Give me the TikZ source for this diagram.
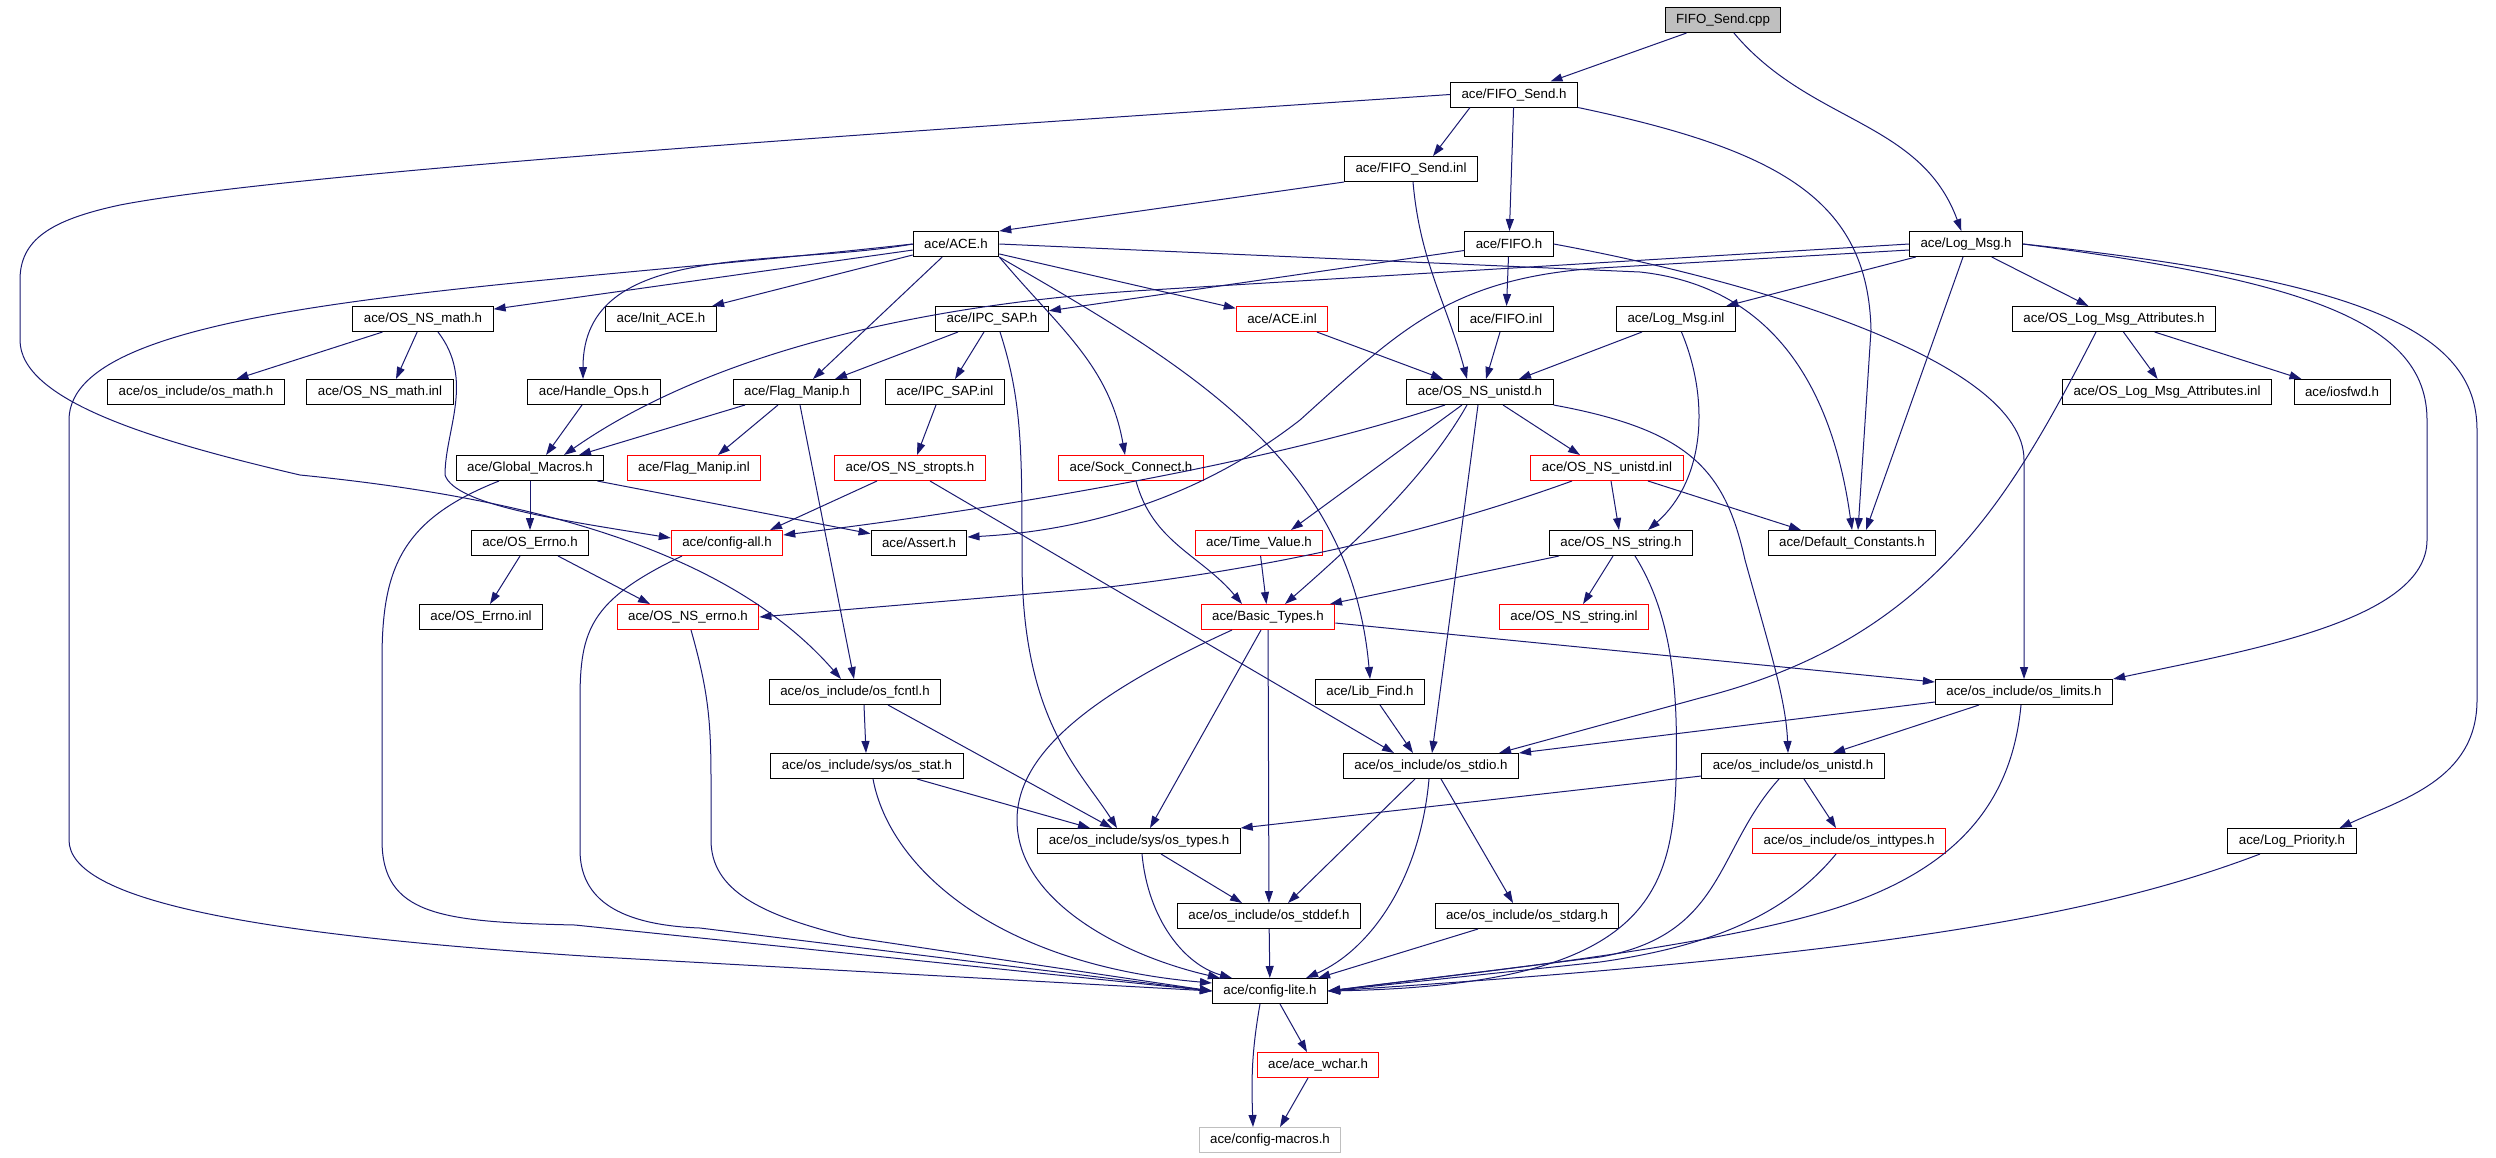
\documentclass[tikz,border=0pt]{standalone}
\usepackage{fontspec}
\setmainfont{Liberation Sans}
\usepackage{tikz}
\usetikzlibrary{
	arrows.meta
}
\definecolor{edgeblue}{RGB}{25,25,112}
\definecolor{srcgray}{RGB}{191,191,191}
\tikzset{every path/.append style={line width=1pt}}
\tikzset{every path/.append style={>={Triangle[length=12pt,width=8pt]}}}
\tikzset{
	file/.style={draw,rectangle,minimum height=25pt,inner xsep=11pt,inner ysep=0pt,font=\fontsize{13.3}{16}\selectfont},
	missing/.style={draw=red},
	src/.style={fill=srcgray},
	external/.style={draw=srcgray},
	incl/.style={->,draw=edgeblue}
}
\newcommand{\tikzFile}[4][]{\node (#3) at #2 [file,#1]{#4};}

\begin{document}
\begin{tikzpicture}[x=1pt,y=1pt]
	\useasboundingbox (0,0) rectangle (2496,-1157);
	\tikzFile[src]{(1723,-20)}{cpp}{FIFO\_Send.cpp}
	\tikzFile{(1514,-94.5)}{fsh}{ace/FIFO\_Send.h}
	\tikzFile{(1411,-169)}{fsinl}{ace/FIFO\_Send.inl}
	\tikzFile{(956,-244)}{ace}{ace/ACE.h}
	\tikzFile{(1509,-244)}{fifo}{ace/FIFO.h}
	\tikzFile{(1966,-244)}{logmsg}{ace/Log\_Msg.h}
	\tikzFile{(423,-319)}{nsmath}{ace/OS\_NS\_math.h}
	\tikzFile{(661,-319)}{initace}{ace/Init\_ACE.h}
	\tikzFile{(992,-319)}{ipcsap}{ace/IPC\_SAP.h}
	\tikzFile[missing]{(1282,-319)}{aceinl}{ace/ACE.inl}
	\tikzFile{(1506,-319)}{fifoinl}{ace/FIFO.inl}
	\tikzFile{(1676,-319)}{logmsginl}{ace/Log\_Msg.inl}
	\tikzFile{(2114,-319)}{logattr}{ace/OS\_Log\_Msg\_Attributes.h}
	\tikzFile{(196,-392)}{osmath}{ace/os\_include/os\_math.h}
	\tikzFile{(380,-392)}{nsmathinl}{ace/OS\_NS\_math.inl}
	\tikzFile{(594,-392)}{handleops}{ace/Handle\_Ops.h}
	\tikzFile{(797,-392)}{flagmanip}{ace/Flag\_Manip.h}
	\tikzFile{(945,-392)}{ipcsapinl}{ace/IPC\_SAP.inl}
	\tikzFile{(1480,-392)}{nsunistd}{ace/OS\_NS\_unistd.h}
	\tikzFile{(2167,-392)}{logattrinl}{ace/OS\_Log\_Msg\_Attributes.inl}
	\tikzFile{(2342,-392)}{iosfwd}{ace/iosfwd.h}
	\tikzFile{(530,-468)}{globmac}{ace/Global\_Macros.h}
	\tikzFile[missing]{(694,-468)}{flagmanipinl}{ace/Flag\_Manip.inl}
	\tikzFile[missing]{(910,-468)}{stropts}{ace/OS\_NS\_stropts.h}
	\tikzFile[missing]{(1131,-468)}{sockconn}{ace/Sock\_Connect.h}
	\tikzFile[missing]{(1607,-468)}{nsunistdinl}{ace/OS\_NS\_unistd.inl}
	\tikzFile{(530,-543)}{oserrno}{ace/OS\_Errno.h}
	\tikzFile[missing]{(727,-543)}{configall}{ace/config-all.h}
	\tikzFile{(919,-543)}{assert}{ace/Assert.h}
	\tikzFile[missing]{(1259,-543)}{timevalue}{ace/Time\_Value.h}
	\tikzFile{(1621,-543)}{nsstring}{ace/OS\_NS\_string.h}
	\tikzFile{(1852,-543)}{defconst}{ace/Default\_Constants.h}
	\tikzFile{(481,-617)}{oserrnoinl}{ace/OS\_Errno.inl}
	\tikzFile[missing]{(688,-617)}{nserrno}{ace/OS\_NS\_errno.h}
	\tikzFile[missing]{(1268,-617)}{basictypes}{ace/Basic\_Types.h}
	\tikzFile[missing]{(1574,-617)}{nsstringinl}{ace/OS\_NS\_string.inl}
	\tikzFile{(855,-692)}{fcntl}{ace/os\_include/os\_fcntl.h}
	\tikzFile{(1370,-692)}{libfind}{ace/Lib\_Find.h}
	\tikzFile{(2024,-692)}{limits}{ace/os\_include/os\_limits.h}
	\tikzFile{(867,-766)}{stat}{ace/os\_include/sys/os\_stat.h}
	\tikzFile{(1431,-766)}{stdio}{ace/os\_include/os\_stdio.h}
	\tikzFile{(1793,-766)}{osunistd}{ace/os\_include/os\_unistd.h}
	\tikzFile{(1139,-841)}{types}{ace/os\_include/sys/os\_types.h}
	\tikzFile[missing]{(1849,-841)}{inttypes}{ace/os\_include/os\_inttypes.h}
	\tikzFile{(2292,-841)}{logprio}{ace/Log\_Priority.h}
	\tikzFile{(1269,-916)}{stddef}{ace/os\_include/os\_stddef.h}
	\tikzFile{(1527,-916)}{stdarg}{ace/os\_include/os\_stdarg.h}
	\tikzFile{(1270,-991)}{configlite}{ace/config-lite.h}
	\tikzFile[missing]{(1318,-1065)}{wchar}{ace/ace\_wchar.h}
	\tikzFile[external]{(1270,-1140)}{configmacros}{ace/config-macros.h}

	\draw[incl] (cpp) -- (fsh);
	\draw[incl] (cpp) to[out=-50,in=110] (logmsg);
	\draw[incl] ([xshift=-44]fsh.south) -- ([xshift=22]fsinl.north);
	\draw[incl] (fsh) -- (fifo);
	\draw[incl] (fsh.south east) .. controls (1780,-150) and (1868,-200) .. (1871,-330) -- ([xshift=6]defconst.north);
	\draw[incl] (fsh.west) .. controls (1000,-125) and (300,-170) .. (120,-205) .. controls (50,-220) and (20,-240) .. (20,-280) -- (20,-340) .. controls (20,-400) and (150,-440) .. (300,-475) .. controls (500,-495) and (720,-540) .. ([xshift=-14]fcntl.north);
	\draw[incl] (fsinl.south west) -- (ace.north east);
	\draw[incl] ([xshift=2]fsinl.south) to[out=-85,in=105] ([xshift=-13]nsunistd.north);
	\draw[incl] (ace) -- (nsmath);
	\draw[incl] (ace) -- (initace);
	\draw[incl] (ace.west) to[out=190,in=90] ([xshift=-11]handleops.north);
	\draw[incl] (ace.west) .. controls (500,-290) and (69,-300) .. (69,-420) -- (69,-840) .. controls (69,-900) and (250,-935) .. (600,-957) -- (configlite.west);
	\draw[incl] (ace) -- ([xshift=16]flagmanip.north);
	\draw[incl] (ace) -- (aceinl);
	\draw[incl] (ace.south east) to[out=-50,in=100] ([xshift=-6]sockconn.north);
	\draw[incl] (ace.south east) to[out=-30,in=95] (libfind.north);
	\draw[incl] (ace.east) -- (1640,-272) .. controls (1760,-285) and (1830,-370) .. (defconst.north);
	\draw[incl] (fifo) -- (fifoinl);
	\draw[incl] (fifo) -- (ipcsap);
	\draw[incl] (fifo.east) .. controls (1750,-280) and (2024,-360) .. (2024,-460) -- (limits.north);
	\draw[incl] (logmsg) -- (logmsginl);
	\draw[incl] (logmsg) -- (logattr);
	\draw[incl] ([xshift=-3]logmsg.south) -- ([xshift=14]defconst.north);
	\draw[incl] (logmsg.west) -- (1150,-290) .. controls (900,-305) and (700,-360) .. ([xshift=34]globmac.north);
	\draw[incl] ([yshift=-6]logmsg.west) -- (1600,-268) .. controls (1450,-278) and (1400,-330) .. (1300,-420) .. controls (1210,-490) and (1100,-530) .. ([yshift=6]assert.east);
	\draw[incl] (logmsg.east) .. controls (2300,-280) and (2427,-320) .. (2427,-420) -- (2427,-540) .. controls (2427,-620) and (2250,-650) .. (limits.north east);
	\draw[incl] (logmsg.east) .. controls (2360,-280) and (2477,-330) .. (2477,-430) -- (2477,-700) .. controls (2477,-780) and (2400,-800) .. ([xshift=-17]logprio.north east);
	\draw[incl] (logmsginl) -- ([xshift=39]nsunistd.north);
	\draw[incl] (logmsginl) .. controls (1710,-400) and (1705,-480) .. ([xshift=27]nsstring.north);
	\draw[incl] (logattr) -- (logattrinl);
	\draw[incl] (logattr) -- (iosfwd);
	\draw[incl] ([xshift=-18]logattr.south) .. controls (2010,-500) and (1930,-640) .. (1700,-698) -- ([xshift=-20]stdio.north east);
	\draw[incl] (nsmath) -- (osmath);
	\draw[incl] (nsmath) -- ([xshift=16]nsmathinl.north);
	\draw[incl] ([xshift=15]nsmath.south) .. controls (475,-380) and (445,-430) .. (445,-475) .. controls (455,-505) and (560,-520) .. ([yshift=5]configall.west);
	\draw[incl] (ipcsap) -- ([xshift=38]flagmanip.north);
	\draw[incl] (ipcsap) -- ([xshift=10]ipcsapinl.north);
	\draw[incl] ([xshift=8]ipcsap.south) .. controls (1022,-400) and (1022,-450) .. (1022,-560) .. controls (1022,-720) and (1080,-770) .. ([xshift=-22]types.north);
	\draw[incl] (aceinl) -- ([xshift=-37]nsunistd.north);
	\draw[incl] ([xshift=-6]fifoinl.south) -- ([xshift=6]nsunistd.north);
	\draw[incl] ([xshift=-12]handleops.south) -- ([xshift=16]globmac.north);
	\draw[incl] ([xshift=-52]flagmanip.south) -- ([xshift=49]globmac.north);
	\draw[incl] ([xshift=-19]flagmanip.south) -- ([xshift=24]flagmanipinl.north);
	\draw[incl] ([xshift=3]flagmanip.south) -- ([xshift=-1]fcntl.north);
	\draw[incl] ([xshift=-9]ipcsapinl.south) -- ([xshift=7]stropts.north);
	\draw[incl] (globmac) -- (oserrno);
	\draw[incl] (globmac) -- (assert);
	\draw[incl] ([xshift=-31]globmac.south) .. controls (400,-520) and (382,-570) .. (382,-660) -- (382,-840) .. controls (382,-915) and (440,-922) .. (575,-925) -- (configlite.west);
	\draw[incl] ([xshift=-33]stropts.south) -- ([xshift=43]configall.north);
	\draw[incl] ([xshift=20]stropts.south) -- ([xshift=-37]stdio.north);
	\draw[incl] ([xshift=5]sockconn.south) to[out=-75,in=130] ([xshift=-26]basictypes.north);
	\draw[incl] ([xshift=-35]nsunistd.south) .. controls (1250,-470) and (950,-515) .. ([yshift=8]configall.east);
	\draw[incl] ([xshift=-18]nsunistd.south) -- ([xshift=32]timevalue.north);
	\draw[incl] ([xshift=-13]nsunistd.south) .. controls (1430,-470) and (1370,-530) .. ([xshift=17]basictypes.north);
	\draw[incl] ([xshift=-2]nsunistd.south) -- ([xshift=1]stdio.north);
	\draw[incl] ([xshift=23]nsunistd.south) -- ([xshift=-27]nsunistdinl.north);
	\draw[incl] (nsunistd.south east) .. controls (1690,-430) and (1725,-470) .. (1745,-560) .. controls (1770,-650) and (1786,-700) .. ([xshift=-5]osunistd.north);
	\draw[incl] ([xshift=41]nsunistdinl.south) -- ([xshift=-51]defconst.north);
	\draw[incl] ([xshift=4]nsunistdinl.south) -- ([xshift=-2]nsstring.north);
	\draw[incl] ([xshift=-35]nsunistdinl.south) .. controls (1450,-525) and (1300,-565) .. (1100,-588) -- (nserrno.east);
	\draw[incl] (nsstring) -- (basictypes);
	\draw[incl] ([xshift=-8]nsstring.south) -- ([xshift=9]nsstringinl.north);
	\draw[incl] ([xshift=14]nsstring.south) .. controls (1675,-620) and (1678,-700) .. (1676,-780) .. controls (1672,-900) and (1640,-985) .. (configlite.east);
	\draw[incl] (timevalue) -- (basictypes);
	\draw[incl] ([xshift=-10]oserrno.south) -- ([xshift=9]oserrnoinl.north);
	\draw[incl] ([xshift=28]oserrno.south) -- ([xshift=-38]nserrno.north);
	\draw[incl] ([xshift=-45]configall.south) .. controls (590,-600) and (580,-630) .. (580,-700) -- (580,-850) .. controls (580,-900) and (620,-925) .. (700,-928) -- (configlite.west);
	\draw[incl] ([xshift=3]nserrno.south) .. controls (708,-690) and (711,-720) .. (711,-780) -- (711,-840) .. controls (711,-890) and (760,-915) .. (850,-937) -- (configlite.west);
	\draw[incl] ([yshift=-6]basictypes.east) -- ([yshift=10]limits.west);
	\draw[incl] ([xshift=-36]basictypes.south) .. controls (1100,-690) and (1017,-750) .. (1017,-820) .. controls (1017,-900) and (1120,-955) .. ([xshift=8]configlite.north west);
	\draw[incl] ([xshift=-7]basictypes.south) -- ([xshift=11]types.north);
	\draw[incl] (basictypes) -- (stddef);
	\draw[incl] ([xshift=9]fcntl.south) -- ([xshift=-1]stat.north);
	\draw[incl] ([xshift=33]fcntl.south) -- ([xshift=-27]types.north);
	\draw[incl] ([xshift=10]libfind.south) -- ([xshift=-18]stdio.north);
	\draw[incl] ([yshift=-10]limits.west) -- (stdio.north east);
	\draw[incl] ([xshift=-45]limits.south) -- ([xshift=40]osunistd.north);
	\draw[incl] ([xshift=-3]limits.south) .. controls (2012,-800) and (1960,-870) .. (1830,-910) .. controls (1700,-950) and (1450,-975) .. (configlite.east);
	\draw[incl] ([xshift=50]stat.south) -- ([xshift=-49]types.north);
	\draw[incl] ([xshift=6]stat.south) .. controls (890,-870) and (1000,-965) .. ([yshift=-5]configlite.north west);
	\draw[incl] ([xshift=-16]stdio.south) -- ([xshift=19]stddef.north);
	\draw[incl] ([xshift=-2]stdio.south) .. controls (1420,-880) and (1370,-950) .. ([xshift=-22]configlite.north east);
	\draw[incl] ([xshift=10]stdio.south) -- ([xshift=-14]stdarg.north);
	\draw[incl] ([yshift=-10]osunistd.west) -- (types.north east);
	\draw[incl] ([xshift=11]osunistd.south) -- ([xshift=-13]inttypes.north);
	\draw[incl] ([xshift=-14]osunistd.south) .. controls (1715,-850) and (1725,-935) .. (1600,-957) -- (configlite.east);
	\draw[incl] ([xshift=22]types.south) -- ([xshift=-27]stddef.north);
	\draw[incl] ([xshift=3]types.south) .. controls (1148,-920) and (1185,-965) .. ([xshift=20]configlite.north west);
	\draw[incl] ([xshift=-13]inttypes.south) .. controls (1790,-910) and (1720,-945) .. (1600,-962) -- (configlite.east);
	\draw[incl] ([xshift=-32]logprio.south) .. controls (2100,-915) and (1880,-955) .. (configlite.east);
	\draw[incl] (stddef) -- (configlite);
	\draw[incl] ([xshift=-49]stdarg.south) -- ([xshift=-10]configlite.north east);
	\draw[incl] ([xshift=10]configlite.south) -- ([xshift=-11]wchar.north);
	\draw[incl] ([xshift=-10]configlite.south) to[out=-100,in=92] ([xshift=-17]configmacros.north);
	\draw[incl] ([xshift=-10]wchar.south) -- ([xshift=10]configmacros.north);
\end{tikzpicture}
\end{document}
